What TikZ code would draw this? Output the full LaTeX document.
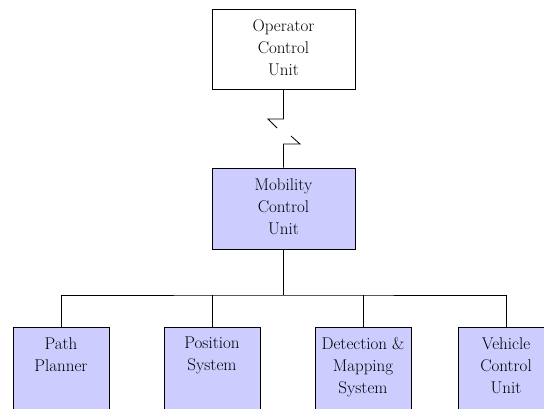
\documentclass[tikz,border=0pt]{standalone}
\usepackage{tikz}
\definecolor{unitblue}{RGB}{204,204,255}
\tikzstyle{unit}=[rectangle, draw=black, line width=0.8pt, inner sep=0pt, minimum height=80pt, anchor=center]
\tikzstyle{annot}=[align=center, inner sep=0pt, anchor=north, font={\fontsize{17pt}{22pt}\selectfont}]
\tikzstyle{link}=[draw=black, line width=0.8pt]
\newcommand{\drawunit}[6]
{
  \node[unit, minimum width=#4, minimum height=#5, fill=#6](#1) at #2{};
  \node[annot, yshift=-10.5pt] at (#1.north){#3};
}

\begin{document}
\begin{tikzpicture}[x=1pt,y=-1pt]
	\useasboundingbox[clip] (0,0) rectangle (544,408);
	\fill[white] (0,0) rectangle (544,408);

	\drawunit{opunit}{(283.5,49)}{Operator\\Control\\Unit}{143pt}{80pt}{white}
	\drawunit{mobunit}{(283.5,208.5)}{Mobility\\Control\\Unit}{143pt}{81pt}{unitblue}

	\drawunit{pathplan}{(61,369)}{Path\\Planner}{96pt}{84pt}{unitblue}
	\drawunit{possys}{(212,369)}{Position\\System}{96pt}{84pt}{unitblue}
	\drawunit{detmap}{(363,369)}{Detection \&\\Mapping\\System}{96pt}{84pt}{unitblue}
	\drawunit{vehunit}{(506,369)}{Vehicle\\Control\\Unit}{96pt}{84pt}{unitblue}

	% radio link
	\coordinate (brk1) at (283.5,119);
	\coordinate (brk2) at (268,119);
	\coordinate (brk3) at (277,128);
	\coordinate (brk4) at (291,136);
	\coordinate (brk5) at (300,144);
	\coordinate (brk6) at (283.5,144);
	\draw[link] (opunit.south) -- (brk1) -- (brk2) -- (brk3);
	\draw[link] (brk4) -- (brk5) -- (brk6) -- (mobunit.north);

	% tree
	\coordinate (bus) at (283.5,295);
	\draw[link] (mobunit.south) -- (bus);
	\draw[link] (pathplan.north) |- (bus) -| (vehunit.north);
	\draw[link] (possys.north) -- (possys.north |- bus);
	\draw[link] (detmap.north) -- (detmap.north |- bus);

\end{tikzpicture}
\end{document}
